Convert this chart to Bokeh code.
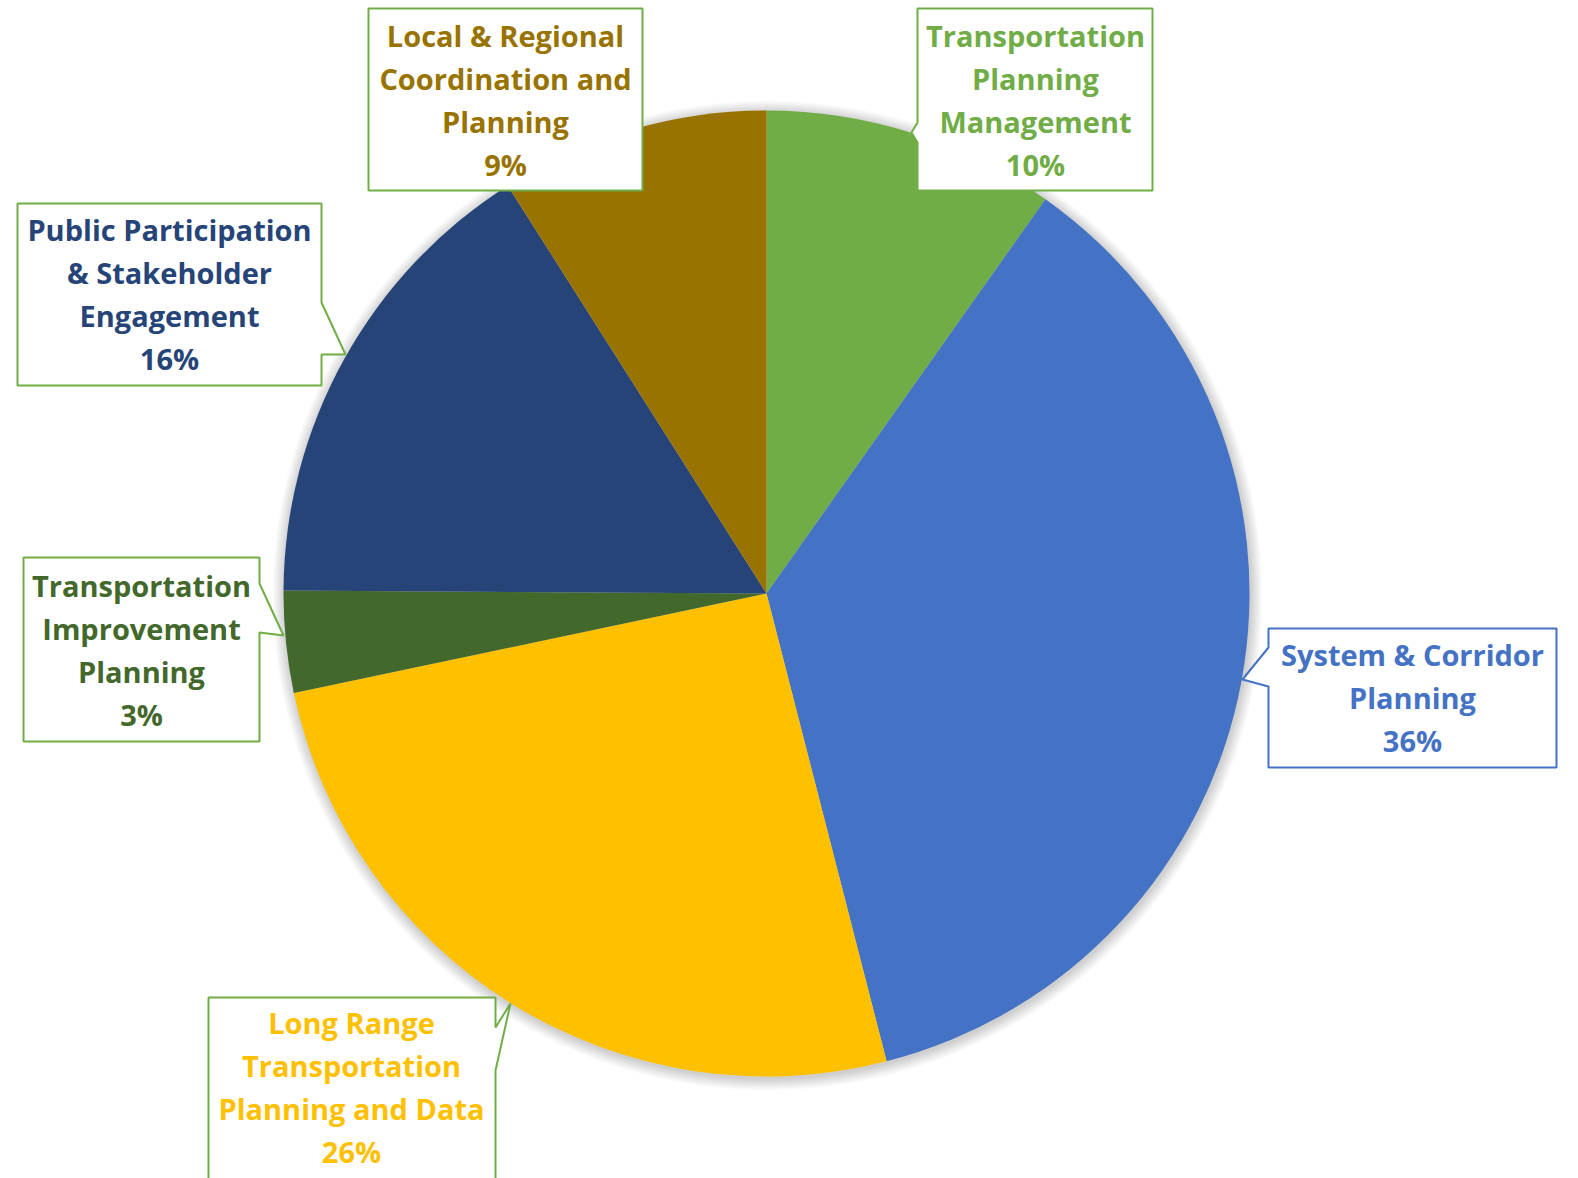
import numpy as np
from bokeh.plotting import figure
from bokeh.models import Range1d
from bokeh.core.properties import value
from bokeh.embed import file_html
from bokeh.resources import INLINE

# ---- data ----
categories = [
    "Transportation\nPlanning\nManagement",
    "System & Corridor\nPlanning",
    "Long Range\nTransportation\nPlanning and Data",
    "Transportation\nImprovement\nPlanning",
    "Public Participation\n& Stakeholder\nEngagement",
    "Local & Regional\nCoordination and\nPlanning",
]
shares = [9.8, 36.2, 25.7, 3.4, 15.9, 9.0]
colors = ["#70AD47", "#4472C4", "#FFC000", "#43682B", "#264478", "#997300"]

# ---- layout (reference pixel coordinates; y is negated for data space) ----
CX, CY, R = 766, 593, 483
FONT = "Open Sans"
FSIZE = "29px"
LINE_SP = 43

# callout boxes: outline polygon, border colour, text centre x, first line y
boxes = [
    dict(poly=[(917, 8), (1152, 8), (1152, 190), (917, 190), (917, 142), (911, 132), (917, 122)],
         border="#70AD47", tx=1035, ty=35),
    dict(poly=[(1268, 628), (1556, 628), (1556, 767), (1268, 767), (1268, 686), (1242, 679), (1268, 647)],
         border="#4472C4", tx=1412, ty=654),
    dict(poly=[(208, 997), (495, 997), (495, 1027), (510, 1003), (495, 1070), (495, 1190), (208, 1190)],
         border="#70AD47", tx=351, ty=1022),
    dict(poly=[(23, 557), (259, 557), (259, 583), (283, 635), (259, 632), (259, 741), (23, 741)],
         border="#70AD47", tx=141, ty=585),
    dict(poly=[(17, 203), (321, 203), (321, 302), (345, 354), (321, 354), (321, 385), (17, 385)],
         border="#70AD47", tx=169, ty=229),
    dict(poly=[(368, 8), (642, 8), (642, 190), (368, 190)],
         border="#70AD47", tx=505, ty=35),
]

W, H = 1578, 1178
p = figure(width=W, height=H, output_backend="svg", toolbar_location=None,
           x_range=Range1d(0, W), y_range=Range1d(-H, 0),
           min_border=0, match_aspect=False)
p.axis.visible = False
p.grid.visible = False
p.outline_line_color = None
p.background_fill_color = "white"
p.border_fill_color = "white"

# soft shadow around the pie
for k in range(12, 0, -1):
    p.circle(x=[CX + 1], y=[-(CY + 2)], radius=R + k, fill_color="black",
             fill_alpha=0.016, line_color=None)

# pie wedges
vals = np.array(shares, dtype=float)
frac = vals / vals.sum()
cum = np.concatenate([[0.0], np.cumsum(frac)])
start = np.pi / 2 - 2 * np.pi * cum[:-1]
end = np.pi / 2 - 2 * np.pi * cum[1:]
p.wedge(x=[CX] * len(vals), y=[-CY] * len(vals), radius=R,
        start_angle=start, end_angle=end, direction="clock",
        fill_color=colors, line_color=None)

# callouts
for b, cat, val, col in zip(boxes, categories, shares, colors):
    xs = [pt[0] for pt in b["poly"]]
    ys = [-pt[1] for pt in b["poly"]]
    p.patch(xs, ys, fill_color="white", line_color=b["border"], line_width=2)
    lines = cat.split("\n") + [f"{round(val)}%"]
    ty = [-(b["ty"] + i * LINE_SP) for i in range(len(lines))]
    p.text(x=[b["tx"]] * len(lines), y=ty, text=lines,
           text_font=value(FONT), text_font_style="bold", text_font_size=FSIZE,
           text_color=col, text_align="center", text_baseline="middle")

open("out.html", "w").write(file_html(p, INLINE))
